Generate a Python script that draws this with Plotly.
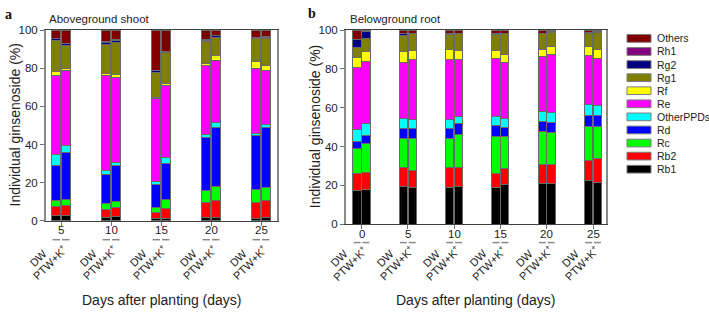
import plotly.graph_objects as go

# ---------------- data ----------------
species = ["Rb1", "Rb2", "Rc", "Rd", "OtherPPDs", "Re", "Rf", "Rg1", "Rg2", "Rh1", "Others"]
colors = ["#000000", "#FF0000", "#00FF00", "#0000FF", "#00FFFF", "#FF00FF",
          "#FFFF00", "#808000", "#000080", "#800080", "#800000"]

treatments = ["DW", "PTW+K<sup>+</sup>"]

days_a = ["5", "10", "15", "20", "25"]
days_b = ["0", "5", "10", "15", "20", "25"]

# Panel a (Aboveground shoot): order DW, PTW+K+ for each day
Rb1_a = [2.9, 3.0, 2.0, 2.5, 1.2, 1.2, 1.9, 1.9, 1.3, 1.7]
Rb2_a = [4.4, 4.9, 4.1, 4.4, 3.2, 5.4, 7.7, 8.7, 8.6, 8.9]
Rc_a = [3.2, 3.4, 2.8, 3.4, 2.5, 4.4, 6.3, 7.3, 6.8, 6.9]
Rd_a = [18.7, 24.3, 15.6, 18.7, 12.3, 19.2, 27.9, 31.2, 27.8, 31.2]
OtherPPDs_a = [5.5, 3.7, 2.0, 1.4, 1.5, 2.9, 1.7, 2.3, 1.5, 1.9]
Re_a = [41.7, 39.6, 49.9, 45.0, 43.4, 37.7, 35.8, 32.7, 34.1, 28.0]
Rf_a = [1.7, 1.0, 0.8, 1.3, 0.8, 1.0, 1.0, 2.6, 3.4, 3.0]
Rg1_a = [16.5, 12.0, 15.2, 16.6, 12.7, 16.2, 11.5, 9.6, 11.9, 14.2]
Rg2_a = [1.0, 0.8, 1.2, 1.4, 1.1, 0.8, 0.9, 0.6, 0.7, 0.5]
Rh1_a = [0.2, 0.2, 0.2, 0.2, 0.2, 0.2, 0.2, 0.2, 0.2, 0.2]
Others_a = [4.2, 7.1, 6.2, 5.1, 21.1, 11.0, 5.1, 2.9, 3.7, 3.5]

# Panel b (Belowground root)
Rb1_b = [17.4, 18.1, 19.4, 18.7, 18.7, 19.6, 18.7, 20.4, 21.2, 21.2, 22.7, 21.7]
Rb2_b = [8.6, 8.6, 9.8, 8.8, 10.3, 9.4, 7.5, 8.5, 9.8, 9.8, 10.3, 12.0]
Rc_b = [12.8, 14.8, 15.1, 16.8, 15.3, 17.4, 18.8, 16.4, 16.8, 16.4, 17.4, 16.7]
Rd_b = [4.0, 4.4, 5.0, 5.0, 5.0, 5.5, 5.7, 4.6, 5.1, 5.2, 5.5, 5.8]
OtherPPDs_b = [6.1, 6.0, 5.4, 4.9, 4.8, 3.8, 4.9, 4.5, 5.3, 4.9, 5.8, 5.0]
Re_b = [31.9, 31.8, 28.4, 30.5, 30.6, 29.2, 30.0, 28.7, 28.2, 30.1, 25.2, 24.0]
Rf_b = [5.3, 5.2, 5.6, 4.9, 5.5, 4.7, 3.8, 4.1, 3.8, 3.9, 4.6, 4.7]
Rg1_b = [5.1, 7.0, 8.6, 8.4, 7.6, 8.4, 8.3, 10.8, 7.8, 7.2, 6.8, 8.9]
Rg2_b = [4.0, 3.3, 0.9, 0.3, 0.3, 0.2, 0.6, 0.2, 0.3, 0.2, 0.2, 0.2]
Rh1_b = [0.1, 0.1, 0.1, 0.1, 0.1, 0.1, 0.1, 0.1, 0.1, 0.1, 0.1, 0.1]
Others_b = [4.7, 0.7, 1.7, 1.6, 1.8, 1.7, 1.6, 1.7, 1.6, 1.0, 1.4, 0.9]

data_a = [Rb1_a, Rb2_a, Rc_a, Rd_a, OtherPPDs_a, Re_a, Rf_a, Rg1_a, Rg2_a, Rh1_a, Others_a]
data_b = [Rb1_b, Rb2_b, Rc_b, Rd_b, OtherPPDs_b, Re_b, Rf_b, Rg1_b, Rg2_b, Rh1_b, Others_b]

# ---------------- figure ----------------
FONT = "Arial, Liberation Sans, sans-serif"
W, H = 709, 313
OFF = 0.095
BW = 0.18


def positions(ndays):
    xs = []
    for i in range(ndays):
        xs += [i - OFF, i + OFF]
    return xs


fig = go.Figure()
for sp, col, ya, yb in zip(species, colors, data_a, data_b):
    fig.add_trace(go.Bar(x=positions(len(days_a)), y=ya, width=BW, marker=dict(color=col, line=dict(color="#6a6a6a", width=1)),
                         name=sp, showlegend=False, xaxis="x", yaxis="y"))
    fig.add_trace(go.Bar(x=positions(len(days_b)), y=yb, width=BW, marker=dict(color=col, line=dict(color="#6a6a6a", width=1)),
                         name=sp, showlegend=False, xaxis="x2", yaxis="y2"))

# plot areas (pixels)
ax_a = dict(x0=46, x1=277, y0=25, y1=223.5)
ax_b = dict(x0=346, x1=606, y0=25, y1=227)


def px(x):
    return x / W


def py(y):
    return 1 - y / H


def xaxis(ax, days, rng):
    return dict(domain=[px(ax["x0"]), px(ax["x1"])], range=rng, tickvals=list(range(len(days))),
                showticklabels=False,
                ticks="outside", ticklen=4, tickcolor="#707070", tickwidth=1.3, showline=True, linecolor="#404040",
                linewidth=1.3, mirror=True, showgrid=False, zeroline=False)


def yaxis(ax, anchor):
    return dict(domain=[py(ax["y1"]), py(ax["y0"])], range=[0, 100], tickvals=[0, 20, 40, 60, 80, 100],
                ticks="outside", ticklen=4, tickcolor="#707070", tickwidth=1.3, showline=True, linecolor="#8a8a8a",
                linewidth=2, mirror=True, showgrid=False, zeroline=False, anchor=anchor,
                tickfont=dict(family=FONT, size=11.5, color="#222"))


fig.update_layout(
    width=W, height=H, margin=dict(l=0, r=0, t=0, b=0), barmode="stack",
    paper_bgcolor="white", plot_bgcolor="white", showlegend=False,
    xaxis=dict(xaxis(ax_a, days_a, [-0.3, 4.32]), anchor="y"),
    yaxis=yaxis(ax_a, "x"),
    xaxis2=dict(xaxis(ax_b, days_b, [-0.335, 5.28]), anchor="y2"),
    yaxis2=yaxis(ax_b, "x2"),
    font=dict(family=FONT, color="#222"),
)

ann = []
shapes = []
# panel letters and titles
ann.append(dict(text="<b>a</b>", x=px(3), y=py(-1), xref="paper", yref="paper", xanchor="left", yanchor="top",
                showarrow=False, font=dict(family="Liberation Serif, Times New Roman, serif", size=14, color="#111")))
ann.append(dict(text="<b>b</b>", x=px(306), y=py(-2), xref="paper", yref="paper", xanchor="left", yanchor="top",
                showarrow=False, font=dict(family="Liberation Serif, Times New Roman, serif", size=14, color="#111")))
ann.append(dict(text="Aboveground shoot", x=px(47), y=py(14), xref="paper", yref="paper", xanchor="left",
                yanchor="middle", showarrow=False, font=dict(family=FONT, size=11.5, color="#222")))
ann.append(dict(text="Belowground root", x=px(348), y=py(14), xref="paper", yref="paper", xanchor="left",
                yanchor="middle", showarrow=False, font=dict(family=FONT, size=11.5, color="#222")))

for ax, xref, yx in [(ax_a, "x", 15), (ax_b, "x2", 315)]:
    ann.append(dict(text="Individual ginsenoside (%)", x=px(yx), y=py((ax["y0"] + ax["y1"]) / 2), xref="paper",
                    yref="paper", textangle=-90, showarrow=False, xanchor="center", yanchor="middle",
                    font=dict(family=FONT, size=14, color="#222")))
    ann.append(dict(text="Days after planting (days)", x=px((ax["x0"] + ax["x1"]) / 2), y=py(306), xref="paper",
                    yref="paper", showarrow=False, xanchor="center", yanchor="middle",
                    font=dict(family=FONT, size=14, color="#222")))

# day numbers, treatment labels and dashes under bars
for days, xref, ynum, ydash, ylab_dw, ylab_ptw in [(days_a, "x", 233, 243, 248, 242),
                                                  (days_b, "x2", 237.5, 246, 248, 243)]:
    for i, d in enumerate(days):
        ann.append(dict(text=d, x=i, y=py(ynum), xref=xref, yref="paper", xanchor="center", yanchor="middle",
                        showarrow=False, font=dict(family=FONT, size=11.5, color="#222")))
    xs = positions(len(days))
    for k, xv in enumerate(xs):
        t = treatments[k % 2]
        shift = -4 if k % 2 == 0 else 7
        ylab = ylab_dw if k % 2 == 0 else ylab_ptw
        ann.append(dict(text=t, x=xv, y=py(ylab), xref=xref, yref="paper", xanchor="right", yanchor="top",
                        textangle=-45, xshift=shift, showarrow=False, font=dict(family=FONT, size=11, color="#222")))
        shapes.append(dict(type="line", xref=xref, yref="paper", x0=xv - 0.075, x1=xv + 0.075, y0=py(ydash),
                           y1=py(ydash), line=dict(color="#8a8a8a", width=1.5)))

# legend (manual, compact)
leg_x0, leg_y0, step = 627, 33.7, 13.6
for i, (sp, col) in enumerate(zip(species[::-1], colors[::-1])):
    yc = leg_y0 + i * step
    shapes.append(dict(type="rect", xref="paper", yref="paper", x0=px(leg_x0), x1=px(leg_x0 + 24),
                       y0=py(yc + 4), y1=py(yc - 4), fillcolor=col, line=dict(color="#7a7a7a", width=1)))
    ann.append(dict(text=sp, x=px(leg_x0 + 28), y=py(yc), xref="paper", yref="paper", xanchor="left",
                    yanchor="middle", showarrow=False, font=dict(family=FONT, size=10.5, color="#222")))

fig.update_layout(annotations=ann, shapes=shapes)
fig.write_html("out.html", config={"displayModeBar": False},
               post_script="document.body.style.margin='0px';document.body.style.overflow='hidden';")
